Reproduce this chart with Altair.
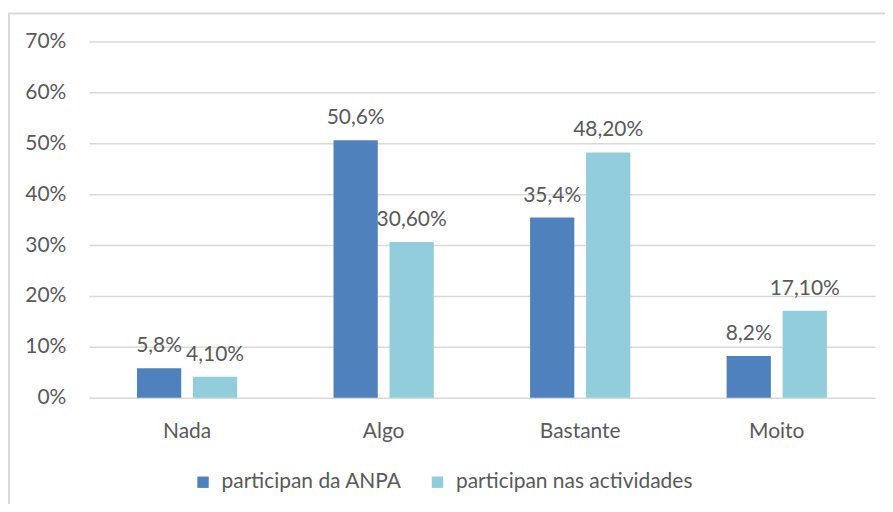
import altair as alt
import pandas as pd

categories = ["Nada", "Algo", "Bastante", "Moito"]
series = ["participan da ANPA", "participan nas actividades"]
anpa = [5.8, 50.6, 35.4, 8.2]
actividades = [4.1, 30.6, 48.2, 17.1]
anpa_labels = ["5,8%", "50,6%", "35,4%", "8,2%"]
act_labels = ["4,10%", "30,60%", "48,20%", "17,10%"]
colors = ["#4F81BD", "#92CDDC"]

rows = []
for i, c in enumerate(categories):
    rows.append({"cat": c, "serie": series[0], "v": anpa[i] / 100, "lab": anpa_labels[i]})
    rows.append({"cat": c, "serie": series[1], "v": actividades[i] / 100, "lab": act_labels[i]})
df = pd.DataFrame(rows)

FONT = "Lato"
GRAY = "#595959"
FS = 21

x = alt.X("cat:N", sort=categories, title=None,
          scale=alt.Scale(paddingInner=0.49, paddingOuter=0.245),
          axis=alt.Axis(labelAngle=0, domain=False, ticks=False, labelPadding=23,
                        labelFontSize=FS, labelColor=GRAY, labelFont=FONT, grid=False))
xo = alt.XOffset("serie:N", sort=series, scale=alt.Scale(paddingInner=0.21, paddingOuter=0))
y = alt.Y("v:Q", title=None,
          scale=alt.Scale(domain=[0, 0.7], nice=False),
          axis=alt.Axis(format=".0%", values=[0, 0.1, 0.2, 0.3, 0.4, 0.5, 0.6, 0.7],
                        domain=False, ticks=False, labelPadding=23, labelFontSize=FS,
                        labelColor=GRAY, labelFont=FONT, gridColor="#D9D9D9", gridWidth=1.5))

bars = alt.Chart(df).mark_bar().encode(
    x=x, xOffset=xo, y=y,
    color=alt.Color("serie:N", sort=series, scale=alt.Scale(domain=series, range=colors),
                    legend=alt.Legend(title=None, orient="none", direction="horizontal",
                                      legendX=104, legendY=431, symbolType="square",
                                      symbolSize=130, symbolStrokeWidth=0, labelLimit=0,
                                      labelFontSize=FS, labelColor=GRAY, labelFont=FONT,
                                      columnPadding=25, labelOffset=8)),
)

text = alt.Chart(df).mark_text(dy=-12, fontSize=FS, color=GRAY, font=FONT, baseline="bottom").encode(
    x=alt.X("cat:N", sort=categories), xOffset=alt.XOffset("serie:N", sort=series), y="v:Q", text="lab:N"
)

border = alt.Chart(pd.DataFrame({"a": [0]})).mark_rect(fill=None, stroke="#D9D9D9", strokeWidth=2).encode(
    x=alt.value(-80), x2=alt.value(820), y=alt.value(-28), y2=alt.value(490)
)

chart = alt.layer(border, bars, text).properties(
    width=788, height=357,
    autosize=alt.AutoSizeParams(type="none"),
    padding={"left": 81, "top": 33, "right": 10, "bottom": 106},
).configure_view(stroke=None)

chart.save("out.html", embed_options={"renderer": "svg", "actions": False})
